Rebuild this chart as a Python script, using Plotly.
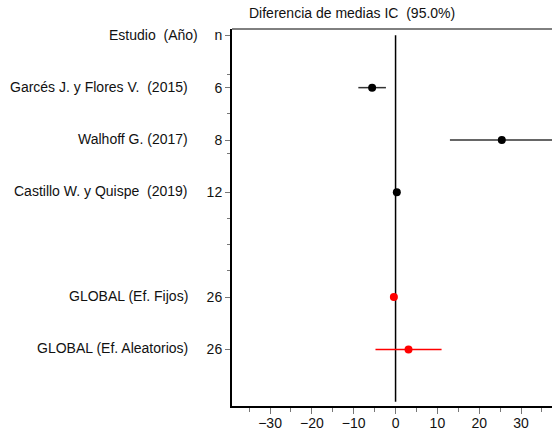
import plotly.graph_objects as go

# Forest plot: mean difference with 95% CI per study and pooled estimates
studies = ["Garcés J. y Flores V.\u00a0\u00a0(2015)", "Walhoff G. (2017)",
           "Castillo W. y Quispe\u00a0\u00a0(2019)"]
study_n = ["6", "8", "12"]
study_mean = [-5.6, 25.4, 0.3]
study_low = [-8.9, 13.0, -0.4]
study_high = [-2.3, 37.8, 1.0]

pooled = ["GLOBAL (Ef. Fijos)", "GLOBAL (Ef. Aleatorios)"]
pooled_n = ["26", "26"]
pooled_mean = [-0.4, 3.1]
pooled_low = [-1.0, -4.8]
pooled_high = [0.2, 11.0]

header_label = "Estudio\u00a0\u00a0(Año)"
header_n = "n"
title_text = "Diferencia de medias IC\u00a0\u00a0(95.0%)"

x_ticks = [-30, -20, -10, 0, 10, 20, 30]

# row positions (top to bottom): header, studies, gap, pooled rows
study_rows = [1, 2, 3]
pooled_rows = [5, 6]
row_vals = [0] + study_rows + pooled_rows
row_text = [header_n] + study_n + pooled_n

FONT = "Liberation Sans, Arial, sans-serif"
FS = 14
TXT = "#111111"

fig = go.Figure()

# vertical reference line at zero difference
fig.add_trace(go.Scatter(
    x=[0, 0], y=[0, 7], mode="lines",
    line=dict(color="black", width=1.5),
    hoverinfo="skip", showlegend=False,
))

fig.add_trace(go.Scatter(
    x=study_mean, y=study_rows, mode="markers",
    marker=dict(color="black", size=8, symbol="circle"),
    error_x=dict(
        type="data", symmetric=False,
        array=[h - m for h, m in zip(study_high, study_mean)],
        arrayminus=[m - l for m, l in zip(study_mean, study_low)],
        color="#333333", thickness=1.5, width=0,
    ),
    showlegend=False,
))

fig.add_trace(go.Scatter(
    x=pooled_mean, y=pooled_rows, mode="markers",
    marker=dict(color="red", size=8, symbol="circle"),
    error_x=dict(
        type="data", symmetric=False,
        array=[h - m for h, m in zip(pooled_high, pooled_mean)],
        arrayminus=[m - l for m, l in zip(pooled_mean, pooled_low)],
        color="red", thickness=1.5, width=0,
    ),
    showlegend=False,
))

# study name column to the left of the n column
annotations = [dict(
    text=header_label, xref="paper", yref="y", x=0, y=0,
    xanchor="right", yanchor="middle", xshift=-32, showarrow=False,
    font=dict(family=FONT, size=FS, color=TXT),
)]
for name, row in zip(studies + pooled, study_rows + pooled_rows):
    annotations.append(dict(
        text=name, xref="paper", yref="y", x=0, y=row,
        xanchor="right", yanchor="middle", xshift=-42, yshift=1,
        showarrow=False,
        font=dict(family=FONT, size=FS, color=TXT),
    ))
annotations.append(dict(
    text=title_text, xref="paper", yref="paper", x=0, y=1,
    xanchor="left", yanchor="bottom", xshift=15, yshift=6, showarrow=False,
    font=dict(family=FONT, size=FS, color=TXT),
))

fig.update_layout(
    width=552, height=437,
    margin=dict(l=232, r=0, t=29, b=31),
    paper_bgcolor="white", plot_bgcolor="white",
    font=dict(family=FONT, size=FS, color=TXT),
    annotations=annotations,
    shapes=[dict(type="line", xref="paper", yref="paper",
                 x0=0, x1=1, y0=1, y1=1,
                 line=dict(color="black", width=1))],
    xaxis=dict(
        range=[-39.1, 37.4], tickvals=x_ticks, ticks="outside",
        ticklen=6, tickwidth=1, tickcolor="#777777",
        ticklabelstandoff=-3,
        minor=dict(tickvals=[-35, -25, -15, -5, 5, 15, 25, 35],
                   ticks="outside", ticklen=4, tickcolor="#777777"),
        showline=True, linewidth=2, linecolor="black",
        showgrid=False, zeroline=False,
        tickfont=dict(family=FONT, size=FS, color=TXT),
    ),
    yaxis=dict(
        range=[7.08, -0.12], tickmode="array", tickvals=row_vals,
        ticktext=row_text, ticks="outside", ticklen=5, tickwidth=1,
        tickcolor="#777777",
        minor=dict(tickvals=[0.75, 1.5, 2.25, 3.5, 4, 4.5],
                   ticks="outside", ticklen=3, tickcolor="#777777"),
        showline=True, linewidth=2, linecolor="black",
        showgrid=False, zeroline=False,
        tickfont=dict(family=FONT, size=FS, color=TXT),
    ),
)

fig.write_html("out.html")
